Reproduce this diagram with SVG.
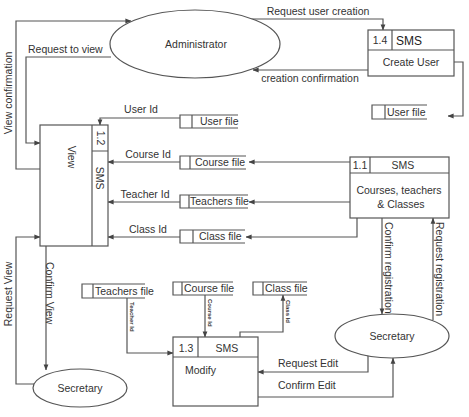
<svg xmlns="http://www.w3.org/2000/svg" width="469" height="417" viewBox="0 0 469 417">
<defs>
<marker id="ah" viewBox="0 0 8 8" refX="7.5" refY="4" markerWidth="6" markerHeight="6" orient="auto" markerUnits="userSpaceOnUse">
<path d="M0,0.8 L8,4 L0,7.2 z" fill="#444"/>
</marker>
<style>
.ln{fill:none;stroke:#555;stroke-width:1.2}
.sh{fill:#fff;stroke:#555;stroke-width:1.2}
.t{font-family:"Liberation Sans",Arial,sans-serif;font-size:10.5px;fill:#333}
.tb{font-family:"Liberation Sans",Arial,sans-serif;font-size:12px;fill:#222}
.tt{font-family:"Liberation Sans",Arial,sans-serif;font-size:6px;font-weight:bold;fill:#333}
.c{text-anchor:middle}
</style>
</defs>
<rect width="469" height="417" fill="#fff"/>

<g id="connectors">
<!-- Request user creation -->
<path class="ln" d="M250,19 H383 V30" marker-end="url(#ah)"/>
<text class="t c" x="318" y="15">Request user creation</text>
<!-- creation confirmation -->
<path class="ln" d="M368,70 H253" marker-end="url(#ah)"/>
<text class="t c" x="310" y="82">creation confirmation</text>
<!-- Create User to User file -->
<path class="ln" d="M454,62 H463 V116 H448" marker-end="url(#ah)"/>
<!-- View confirmation -->
<path class="ln" d="M40,169 H16 V21 H131" marker-end="url(#ah)"/>
<text class="t c" transform="translate(12,93) rotate(-90)">View confirmation</text>
<!-- Request to view -->
<path class="ln" d="M111,57 H26 V143 H40" marker-end="url(#ah)"/>
<text class="t" x="28" y="53">Request to view</text>
<!-- User Id -->
<path class="ln" d="M180,118 H100 V125" marker-end="url(#ah)"/>
<text class="t c" x="141" y="113">User Id</text>
<!-- Course Id -->
<path class="ln" d="M180,162 H108" marker-end="url(#ah)"/>
<text class="t c" x="148" y="158">Course Id</text>
<!-- Teacher Id -->
<path class="ln" d="M180,202 H108" marker-end="url(#ah)"/>
<text class="t c" x="145" y="198">Teacher Id</text>
<!-- Class Id -->
<path class="ln" d="M180,237 H108" marker-end="url(#ah)"/>
<text class="t c" x="148" y="233">Class Id</text>
<!-- 1.1 to stores -->
<path class="ln" d="M350,162 H249" marker-end="url(#ah)"/>
<path class="ln" d="M350,202 H249" marker-end="url(#ah)"/>
<path class="ln" d="M357,218 V237 H246" marker-end="url(#ah)"/>
<!-- Confirm registration -->
<path class="ln" d="M382,218 V314" marker-end="url(#ah)"/>
<text class="t" transform="translate(385,222) rotate(90)">Confirm registration</text>
<!-- Request registration -->
<path class="ln" d="M433,320 V218" marker-end="url(#ah)"/>
<text class="t" transform="translate(436,222) rotate(90)">Request registration</text>
<!-- Request Edit -->
<path class="ln" d="M368,355 V372 H258" marker-end="url(#ah)"/>
<text class="t" x="278" y="367">Request Edit</text>
<!-- Confirm Edit -->
<path class="ln" d="M258,397 H393 V358" marker-end="url(#ah)"/>
<text class="t" x="278" y="389">Confirm Edit</text>
<!-- Teacher Id to Modify -->
<path class="ln" d="M127,298 V353 H173" marker-end="url(#ah)"/>
<text class="tt" transform="translate(130,302) rotate(90)">Teacher Id</text>
<!-- Course Id to Modify -->
<path class="ln" d="M205,295 V337" marker-end="url(#ah)"/>
<text class="tt" transform="translate(208,299) rotate(90)">Course Id</text>
<!-- Class Id -->
<path class="ln" d="M240,337 V332 H283 V295" marker-end="url(#ah)"/>
<text class="tt" transform="translate(286,300) rotate(90)">Class Id</text>
<!-- Request View -->
<path class="ln" d="M34,384 H16 V237 H40" marker-end="url(#ah)"/>
<text class="t c" transform="translate(12,294) rotate(-90)">Request View</text>
<!-- Confirm View -->
<path class="ln" d="M46,246 V370" marker-end="url(#ah)"/>
<text class="t" transform="translate(46,262) rotate(90)">Confirm View</text>
</g>

<g id="administrator">
<ellipse class="sh" cx="195" cy="44" rx="85" ry="34"/>
<text class="t c" x="196" y="48">Administrator</text>
</g>

<g id="p14">
<rect class="sh" x="368" y="30" width="86" height="46"/>
<path class="ln" d="M368,50 H454 M392,30 V50"/>
<text class="t c" x="380" y="44">1.4</text>
<text class="tb" x="396" y="45">SMS</text>
<text class="t c" x="411" y="66">Create User</text>
</g>

<g id="userfile_r">
<path class="ln" d="M427,105 H372 V119 H427 M385,105 V119"/>
<text class="t" x="387" y="116">User file</text>
</g>

<g id="p12">
<rect class="sh" x="40" y="125" width="68" height="121"/>
<path class="ln" d="M92,125 V246 M92,151 H108"/>
<text class="t c" transform="translate(97,138) rotate(90)">1.2</text>
<text class="t c" transform="translate(96,178) rotate(90)">SMS</text>
<text class="t c" transform="translate(68,157) rotate(90)">View</text>
</g>

<g id="userfile">
<path class="ln" d="M238,115 H180 V128 H238 M192,115 V128"/>
<text class="t" x="200" y="125">User file</text>
</g>

<g id="coursefile">
<path class="ln" d="M246,156 H180 V169 H246 M190,156 V169"/>
<text class="t" x="195" y="166">Course file</text>
</g>

<g id="teachersfile">
<path class="ln" d="M248,195 H180 V208 H248 M189,195 V208"/>
<text class="t" x="190" y="205">Teachers file</text>
</g>

<g id="classfile">
<path class="ln" d="M245,230 H180 V243 H245 M193,230 V243"/>
<text class="t" x="199" y="240">Class file</text>
</g>

<g id="p11">
<rect class="sh" x="350" y="157" width="99" height="61"/>
<path class="ln" d="M350,173 H449 M370,157 V173"/>
<text class="t c" x="360" y="169">1.1</text>
<text class="t c" x="403" y="169">SMS</text>
<text class="t c" x="399" y="194">Courses, teachers</text>
<text class="t c" x="401" y="208">&amp; Classes</text>
</g>

<g id="secretary_r">
<ellipse class="sh" cx="392" cy="336" rx="57" ry="22"/>
<text class="t c" x="392" y="340">Secretary</text>
</g>

<g id="p13">
<rect class="sh" x="173" y="337" width="85" height="69"/>
<path class="ln" d="M173,357 H258 M198,337 V357"/>
<text class="t c" x="186" y="352">1.3</text>
<text class="t c" x="227" y="352">SMS</text>
<text class="t" x="185" y="374">Modify</text>
</g>

<g id="teachersfile_b">
<path class="ln" d="M145,284 H82 V298 H145 M93,284 V298"/>
<text class="t" x="95" y="295">Teachers file</text>
</g>

<g id="coursefile_b">
<path class="ln" d="M233,282 H173 V295 H233 M182,282 V295"/>
<text class="t" x="184" y="292">Course file</text>
</g>

<g id="classfile_b">
<path class="ln" d="M307,282 H253 V295 H307 M263,282 V295"/>
<text class="t" x="265" y="292">Class file</text>
</g>

<g id="secretary_l">
<ellipse class="sh" cx="80" cy="388" rx="47" ry="19"/>
<text class="t c" x="80" y="392">Secretary</text>
</g>
</svg>
